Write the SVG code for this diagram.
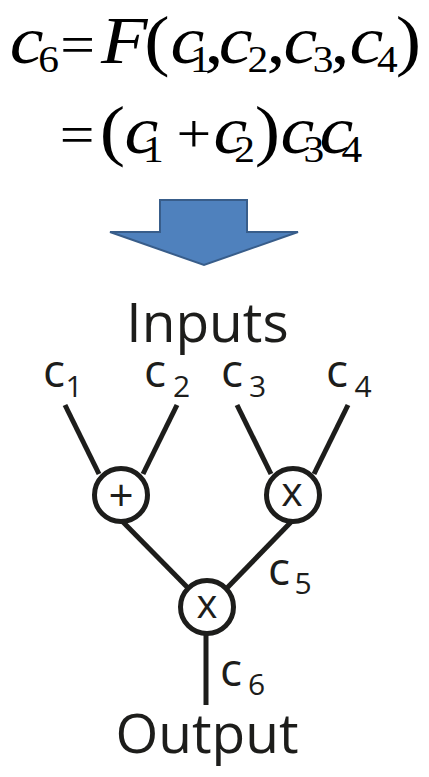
<svg xmlns="http://www.w3.org/2000/svg" width="429" height="777" viewBox="0 0 429 777">
<style>
.m{font-family:"Liberation Serif","Times New Roman",serif;fill:#000;text-anchor:middle;font-size:68px}
.i{font-style:italic;font-size:68px}
.u{font-size:68px}
.s{font-size:37px}
.o{font-size:55px}
.lab{font-family:"Open Sans","Noto Sans",sans-serif;fill:#1d1d1b}
.c{font-size:46px}
.d{font-size:30px;text-anchor:middle}
.big{font-size:55px;text-anchor:middle}
.op{font-family:"Open Sans","Noto Sans",sans-serif;fill:#1d1d1b;text-anchor:middle}
.w{stroke:#1d1d1b;stroke-width:5;fill:none}
.n{fill:#fff;stroke:#1d1d1b;stroke-width:5}
</style>
<rect width="429" height="777" fill="#fff"/>
<g id="formula" transform="scale(1.12,1)">
<text class="m"><tspan class="i" x="23.7" y="63">c</tspan><tspan class="s" x="43.5" y="72">6</tspan><tspan class="o" x="69.2" y="63">=</tspan><tspan class="i" x="111" y="63">F</tspan><tspan class="u" x="140.2" y="63">(</tspan><tspan class="i" x="167.4" y="63">c</tspan><tspan class="s" x="179" y="72">1</tspan><tspan class="u" x="191.1" y="63">,</tspan><tspan class="i" x="210.3" y="63">c</tspan><tspan class="s" x="230.3" y="72">2</tspan><tspan class="u" x="246.4" y="63">,</tspan><tspan class="i" x="268.3" y="63">c</tspan><tspan class="s" x="288.4" y="72">3</tspan><tspan class="u" x="303.6" y="63">,</tspan><tspan class="i" x="327.2" y="63">c</tspan><tspan class="s" x="345.9" y="72">4</tspan><tspan class="u" x="364.7" y="63">)</tspan></text>
<text class="m"><tspan class="o" x="68.8" y="153">=</tspan><tspan class="u" x="100.4" y="153">(</tspan><tspan class="i" x="126.3" y="153">c</tspan><tspan class="s" x="137" y="162">1</tspan><tspan class="o" x="173.2" y="152">+</tspan><tspan class="i" x="205.8" y="153">c</tspan><tspan class="s" x="218.3" y="162">2</tspan><tspan class="u" x="238.8" y="153">)</tspan><tspan class="i" x="265.6" y="153">c</tspan><tspan class="s" x="280.3" y="162">3</tspan><tspan class="i" x="300.4" y="153">c</tspan><tspan class="s" x="314.2" y="162">4</tspan></text>
</g>
<g id="arrow">
<polygon points="160,200 247,200 247,232 298,232 204,265 110,232 160,232" fill="#4f81bd" stroke="#385d8a" stroke-width="2" stroke-linejoin="miter"/>
</g>
<g id="connectors">
<line class="w" x1="65" y1="405" x2="99" y2="474"/>
<line class="w" x1="177" y1="405" x2="143" y2="474"/>
<line class="w" x1="237" y1="405" x2="271" y2="474"/>
<line class="w" x1="348" y1="405" x2="314" y2="474"/>
<line class="w" x1="122" y1="521" x2="188" y2="588"/>
<line class="w" x1="292" y1="521" x2="227" y2="588"/>
<line class="w" x1="206" y1="633" x2="206" y2="705"/>
</g>
<g id="inputs"><text class="lab big" x="207.5" y="342">Inputs</text></g>
<g id="c1"><text class="lab c" x="43" y="387">c<tspan class="d" x="74" y="397">1</tspan></text></g>
<g id="c2"><text class="lab c" x="144" y="387">c<tspan class="d" x="181.5" y="397">2</tspan></text></g>
<g id="c3"><text class="lab c" x="221" y="387">c<tspan class="d" x="257.5" y="397">3</tspan></text></g>
<g id="c4"><text class="lab c" x="326" y="387">c<tspan class="d" x="363" y="397">4</tspan></text></g>
<g id="plus"><circle class="n" cx="121" cy="495" r="26.5"/><text class="op" x="121" y="511" font-size="44">+</text></g>
<g id="times1"><circle class="n" cx="293" cy="495" r="26.5"/><text class="op" x="292" y="506" font-size="41">x</text></g>
<g id="times2"><circle class="n" cx="207" cy="607" r="26.5"/><text class="op" x="207" y="618" font-size="40">x</text></g>
<g id="c5"><text class="lab c" x="268" y="585">c<tspan class="d" x="303" y="594">5</tspan></text></g>
<g id="c6"><text class="lab c" x="220" y="686">c<tspan class="d" x="256.5" y="695">6</tspan></text></g>
<g id="output"><text class="lab big" x="207" y="753" font-size="56">Output</text></g>
</svg>
